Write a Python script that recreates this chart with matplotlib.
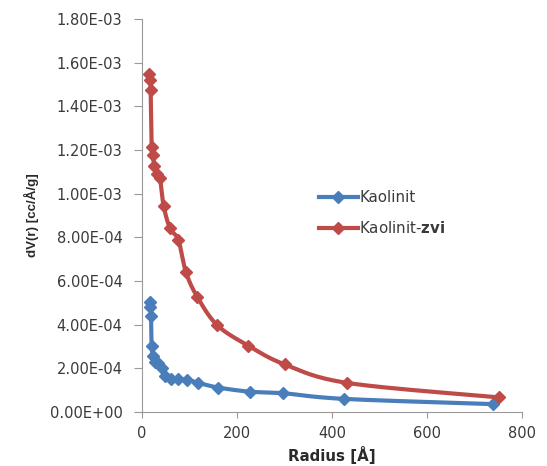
import numpy as np
import matplotlib.pyplot as plt
from matplotlib.ticker import FuncFormatter, MultipleLocator

plt.rcParams['font.family'] = ['DejaVu Sans']

# Kaolinit (blue)
r_kao = [16.8, 17.5, 19.0, 20.3, 23.7, 27.0, 34.0, 41.0, 48.0, 62.0, 76.0, 94.0, 118.0, 160.0, 227.0, 297.0, 425.0, 739.0]
dv_kao = [5.05e-4, 4.82e-4, 4.40e-4, 3.00e-4, 2.56e-4, 2.30e-4, 2.23e-4, 2.00e-4, 1.65e-4, 1.50e-4, 1.50e-4, 1.48e-4, 1.34e-4, 1.12e-4, 0.93e-4, 0.86e-4, 0.60e-4, 0.36e-4]

# Kaolinit-zvi (red)
r_zvi = [14.7, 16.8, 18.2, 20.3, 22.4, 26.0, 31.0, 37.8, 45.6, 58.9, 76.4, 92.5, 116.0, 158.0, 223.0, 300.0, 432.0, 750.0]
dv_zvi = [1.55e-3, 1.52e-3, 1.475e-3, 1.215e-3, 1.177e-3, 1.127e-3, 1.089e-3, 1.070e-3, 0.943e-3, 0.841e-3, 0.788e-3, 0.640e-3, 0.528e-3, 0.398e-3, 0.304e-3, 0.218e-3, 0.133e-3, 0.067e-3]

blue = '#4A7EBB'
red = '#BE4B48'
tick_col = '#3a3a3a'


def smooth(x, y, sx=800.0, sy=1.8e-3, n=20):
    # excel-like smoothed line (catmull-rom in normalised axis space)
    p = np.column_stack([np.array(x) / sx, np.array(y) / sy])
    p = np.vstack([p[0], p, p[-1]])
    out = []
    for i in range(1, len(p) - 2):
        p0, p1, p2, p3 = p[i - 1], p[i], p[i + 1], p[i + 2]
        t = np.linspace(0, 1, n)[:, None]
        c = 0.5 * ((2 * p1) + (-p0 + p2) * t + (2 * p0 - 5 * p1 + 4 * p2 - p3) * t ** 2
                   + (-p0 + 3 * p1 - 3 * p2 + p3) * t ** 3)
        out.append(c)
    c = np.vstack(out)
    return c[:, 0] * sx, c[:, 1] * sy


fig = plt.figure(figsize=(5.47, 4.66), dpi=100)
ax = fig.add_axes([0.2596, 0.1159, 0.6956, 0.8433])

for r, dv, col in [(r_kao, dv_kao, blue), (r_zvi, dv_zvi, red)]:
    sxv, syv = smooth(r, dv)
    ax.plot(sxv, syv, color=col, lw=3, solid_capstyle='round')
    ax.plot(r, dv, ls='none', color=col, marker='D', markersize=6.5)

h1, = ax.plot([], [], color=blue, lw=3, marker='D', markersize=6.5, label='Kaolinit')
h2, = ax.plot([], [], color=red, lw=3, marker='D', markersize=6.5, label='Kaolinit-$\\mathbf{zvi}$')

ax.set_xlim(0, 800)
ax.set_ylim(0, 1.8e-3)
ax.xaxis.set_major_locator(MultipleLocator(200))
ax.yaxis.set_major_locator(MultipleLocator(2e-4))
ax.yaxis.set_major_formatter(FuncFormatter(lambda v, p: '%.2E' % v))

for s in ['top', 'right']:
    ax.spines[s].set_visible(False)
for s in ['left', 'bottom']:
    ax.spines[s].set_color('#999999')
ax.tick_params(axis='both', colors='#999999', labelcolor=tick_col, labelsize=10.5, direction='out')
ax.tick_params(axis='y', length=6, pad=8)
ax.tick_params(axis='x', length=4, pad=6)

ax.set_xlabel('Radius [Å]', fontsize=10.8, fontweight='bold', color='#2a2a2a', labelpad=4)
ax.set_ylabel('dV(r) [cc/Å/g]', fontsize=9.6, fontweight='bold', color='#2a2a2a', labelpad=8,
              family='Liberation Sans')

leg = ax.legend(handles=[h1, h2], loc='center left', bbox_to_anchor=(0.5576, 0.5422),
                bbox_transform=fig.transFigure, frameon=False, fontsize=10.8,
                handlelength=2.6, labelspacing=1.0, handletextpad=0.1)
for t in leg.get_texts():
    t.set_color(tick_col)

plt.savefig('out.png', dpi=100)
